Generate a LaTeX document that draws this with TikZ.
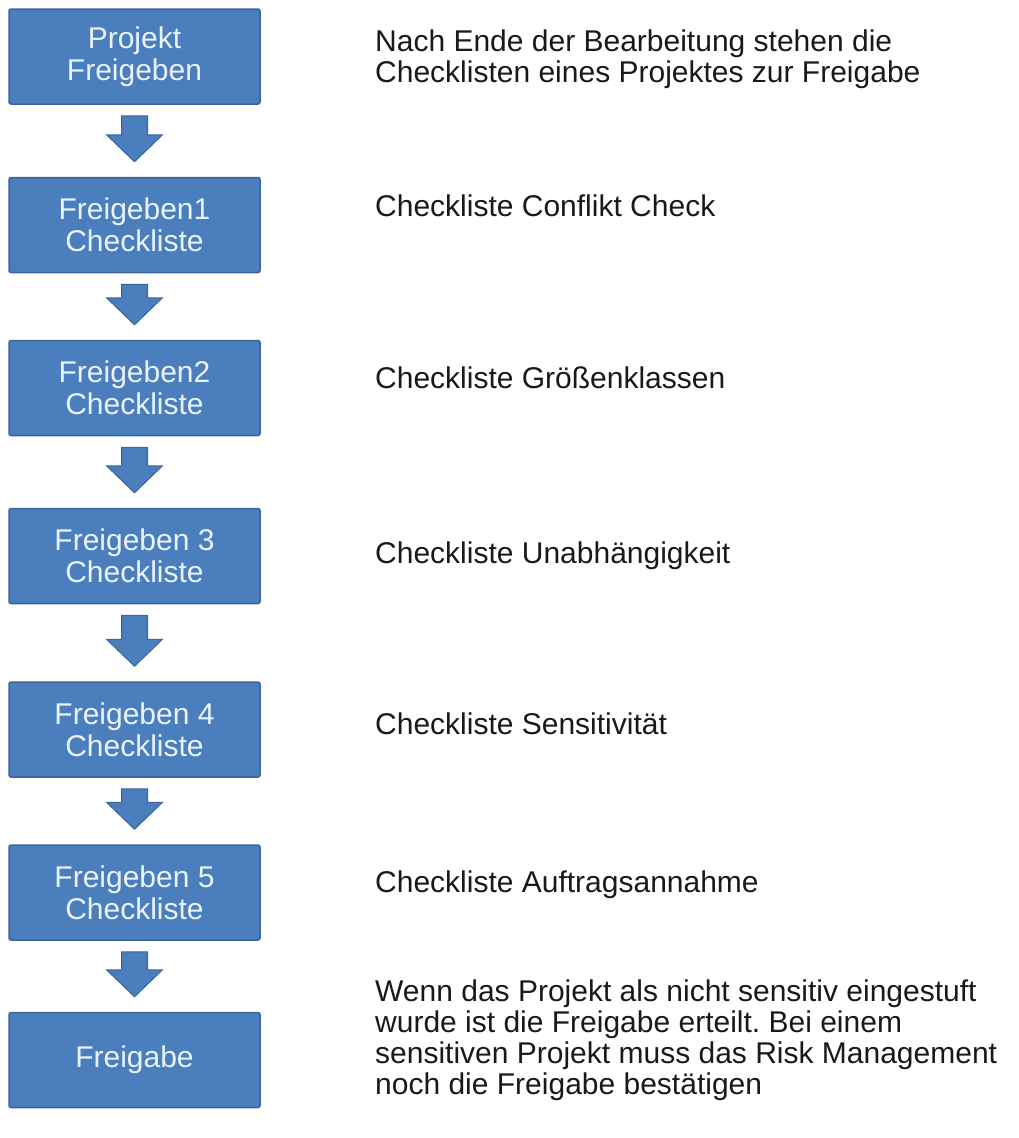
\documentclass[tikz,border=0pt]{standalone}
\usepackage{fontspec}
\setmainfont{Liberation Sans}
\usepackage{tikz}
\usetikzlibrary{positioning,calc}
\frenchspacing

\definecolor{boxblue}{HTML}{4A7EBD}
\definecolor{boxline}{HTML}{3A659C}
\definecolor{boxtext}{HTML}{EAF2FC}

\begin{document}
\begin{tikzpicture}[x=1pt,y=1pt,yscale=-1,
  stepbox/.style={draw=boxline, line width=1.5pt, fill=boxblue, rounded corners=2pt,
    minimum width=251pt, minimum height=95pt, inner sep=0pt, align=center,
    text=boxtext, font=\fontsize{30}{32}\selectfont},
  desc/.style={anchor=base west, align=left, inner sep=0pt,
    font=\fontsize{30}{31}\selectfont, text=black!90},
  downarrow/.style={fill=boxblue, draw=boxline, line width=1pt}]
\useasboundingbox (0,0) rectangle (1018,1138);

% Steps
\node[stepbox] (p0) at (134.5,56.5) {Projekt\\Freigeben};
\node[stepbox] (p1) at (134.5,225) {Freigeben1\\Checkliste};
\node[stepbox] (p2) at (134.5,388) {Freigeben2\\Checkliste};
\node[stepbox] (p3) at (134.5,556) {Freigeben 3\\Checkliste};
\node[stepbox] (p4) at (134.5,729.5) {Freigeben 4\\Checkliste};
\node[stepbox] (p5) at (134.5,892.5) {Freigeben 5\\Checkliste};
\node[stepbox] (p6) at (134.5,1060) {Freigabe};

% Descriptions (base = last line)
\node[desc] (t0) at (375,82) {Nach Ende der Bearbeitung stehen die\\Checklisten eines Projektes zur Freigabe};
\node[desc] (t1) at (375,216) {Checkliste Conflikt Check};
\node[desc] (t2) at (375,388) {Checkliste Größenklassen};
\node[desc] (t3) at (375,563) {Checkliste Unabhängigkeit};
\node[desc] (t4) at (375,734) {Checkliste Sensitivität};
\node[desc] (t5) at (375,892) {Checkliste Auftragsannahme};
\node[desc] (t6) at (375,1094) {Wenn das Projekt als nicht sensitiv eingestuft\\wurde ist die Freigabe erteilt. Bei einem\\sensitiven Projekt muss das Risk Management\\noch die Freigabe bestätigen};

% Block arrows
\foreach \a/\b in {p0/p1,p1/p2,p2/p3,p3/p4,p4/p5,p5/p6}
  \draw[downarrow] ($(\a.south)+(-13,11)$) -- ($(\a.south)+(13,11)$)
    -- ($(\b.north)+(13,-42)$) -- ($(\b.north)+(28,-42)$) -- ($(\b.north)+(0,-15)$)
    -- ($(\b.north)+(-28,-42)$) -- ($(\b.north)+(-13,-42)$) -- cycle;

\end{tikzpicture}
\end{document}
